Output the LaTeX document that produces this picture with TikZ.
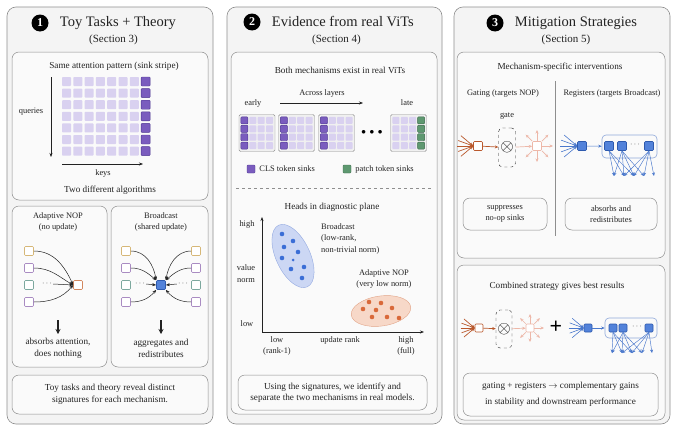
\documentclass[tikz,border=0pt]{standalone}
\usepackage{fontspec}
\setmainfont{Liberation Serif}
\usetikzlibrary{arrows.meta,calc,positioning}

\definecolor{ink}{HTML}{222222}
\definecolor{edge}{HTML}{8E8E8E}
\definecolor{panelbg}{HTML}{F4F4F4}
\definecolor{boxbg}{HTML}{FAFAFA}
\definecolor{lav}{HTML}{D9D1F0}
\definecolor{sinkp}{HTML}{7A5CBE}
\definecolor{sinkpd}{HTML}{4E3791}
\definecolor{sinkg}{HTML}{5E9870}
\definecolor{sinkgd}{HTML}{3C6B4A}
\definecolor{tokA}{HTML}{D6B777}
\definecolor{tokB}{HTML}{A98BC2}
\definecolor{tokC}{HTML}{7CA89E}
\definecolor{nopc}{HTML}{D2875F}
\definecolor{bluef}{HTML}{5282DA}
\definecolor{blued}{HTML}{2E5AAE}
\definecolor{bluea}{HTML}{4A78CC}
\definecolor{bluel}{HTML}{8FA8DA}
\definecolor{gatec}{HTML}{B9582C}
\definecolor{fade}{HTML}{EDB7A8}
\definecolor{blueell}{HTML}{CCD7F4}
\definecolor{blueelld}{HTML}{93A9E0}
\definecolor{orell}{HTML}{F7D8C8}
\definecolor{orelld}{HTML}{E2A487}
\definecolor{ordot}{HTML}{D9693A}
\definecolor{bldot}{HTML}{3B6ED6}

\newcommand\ttlfont{\fontsize{14.5}{17}\selectfont}
\newcommand\secfont{\fontsize{11}{13}\selectfont}
\newcommand\bodyfont{\fontsize{9.2}{11.5}\selectfont}
\newcommand\smallfont{\fontsize{8.4}{11.5}\selectfont}

\begin{document}
\begin{tikzpicture}[x=1pt,y=1pt,
    panel/.style={draw=edge,fill=panelbg,rounded corners=9pt,line width=.6pt},
    inbox/.style={draw=edge,fill=boxbg,rounded corners=7pt,line width=.5pt},
    txtbox/.style={inbox,align=center,font=\bodyfont,text=ink,inner sep=2pt},
    num/.style={circle,fill=black,text=white,inner sep=0pt,minimum size=17pt,font=\fontsize{12}{12}\selectfont\bfseries},
    ttl/.style={font=\ttlfont,text=ink,inner sep=1pt},
    sec/.style={font=\secfont,text=ink,inner sep=1pt},
    lbl/.style={font=\bodyfont,text=ink,inner sep=1pt,align=center},
    sml/.style={font=\smallfont,text=ink,inner sep=1pt,align=center},
    cell/.style={fill=lav,inner sep=0pt,minimum size=9pt,rounded corners=.8pt},
    frame/.style={draw=edge,fill=gray!12,rounded corners=1.5pt,minimum width=36pt,minimum height=37pt,inner sep=0pt},
    tok/.style={draw=#1,fill=white,inner sep=0pt,minimum size=9pt,rounded corners=1pt,line width=.6pt},
    gatebox/.style={draw=ink,dashed,rounded corners=4pt,minimum width=17pt,minimum height=39pt,inner sep=0pt,fill=boxbg,font=\fontsize{16}{16}\selectfont},
    regbox/.style={draw=bluel,rounded corners=4pt,minimum width=55pt,minimum height=23pt,inner sep=0pt,line width=.6pt},
    arr/.style={-{Stealth[length=4pt,width=3pt]},line width=.5pt,draw=ink},
    bigarr/.style={-{Stealth[length=5pt,width=5pt]},line width=1.4pt,draw=ink},
    barr/.style={-{Stealth[length=3.5pt,width=3pt]},line width=.7pt,draw=gatec},
    farr/.style={-{Stealth[length=3.5pt,width=3pt]},line width=.7pt,draw=fade},
    blarr/.style={-{Stealth[length=3.5pt,width=3pt]},line width=.6pt,draw=bluea},
    dot/.style={circle,fill=#1,inner sep=0pt,minimum size=4.6pt}]
\useasboundingbox (0,0) rectangle (677,-431);
\fill[white] (0,0) rectangle (677,-431);

% ---- panel 1 : toy tasks
\draw[panel] (7,-7) rectangle (213,-424);
\node[num] (n1) at (40,-23) {1};
\node[ttl,right=10pt of n1] (t1) {Toy Tasks + Theory};
\node[sec] (s1) at (113.5,-40) {(Section 3)};
\draw[inbox] (12,-52) rectangle (208,-200);
\node[lbl] (same) at (114,-66) {Same attention pattern (sink stripe)};
\foreach \i in {0,...,6}
  \foreach \j in {0,...,6}
    \node[cell] (c-\i-\j) at (66.5+11.3*\i,-81.5-11.6*\j) {};
\foreach \j in {0,...,6}
  \node[cell,fill=sinkp,draw=sinkpd] (c-7-\j) at (145.6,-81.5-11.6*\j) {};
\coordinate (qtop) at (51,-77);
\coordinate (qbot) at (51,-157);
\draw[arr] (qtop) -- (qbot);
\node[sml] (q) at (31,-112) {queries};
\coordinate (kl) at (62,-164);
\coordinate (kr) at (143,-164);
\draw[arr] (kl) -- (kr);
\node[sml] (k) at (103,-173) {keys};
\node[lbl] (two) at (110,-190) {Two different algorithms};

% adaptive nop
\draw[inbox] (12,-206) rectangle (107,-367);
\node[sml] (nopt) at (58,-222) {Adaptive NOP\\(no update)};
\foreach \c [count=\k] in {tokA,tokB,tokC,tokB}
  \node[tok=\c] (a\k) at (29,-234-17*\k) {};
\node[tok=nopc] (nt) at (78,-285) {};
\node[sml] (ad) at (47,-284) {$\cdots$};
\draw[arr] (a1.east) to[out=0,in=115] (nt.west);
\draw[arr] (a2.east) to[out=0,in=150] (nt.west);
\draw[arr] (ad.east) -- (nt.west);
\draw[arr] (a4.east) to[out=0,in=-130] (nt.west);
\coordinate (nd1) at (58,-320);
\coordinate (nd2) at (58,-334);
\draw[bigarr] (nd1) -- (nd2);
\node[lbl] (nopr) at (58,-348.5) {absorbs attention,\\does nothing};

% broadcast
\draw[inbox] (111,-206) rectangle (208,-367);
\node[sml] (bct) at (161,-222) {Broadcast\\(shared update)};
\foreach \c [count=\k] in {tokA,tokB,tokC,tokB} {
  \node[tok=\c] (bl\k) at (126,-234-17*\k) {};
  \node[tok=\c] (br\k) at (196,-234-17*\k) {};
}
\node[tok=blued,fill=bluef] (bc) at (161,-285) {};
\node[sml] (bld) at (140,-284) {$\cdots$};
\node[sml] (brd) at (183,-284) {$\cdots$};
\draw[arr] (bl1.east) to[out=0,in=100] (bc.north west);
\draw[arr] (bl2.east) to[out=0,in=140] (bc.north west);
\draw[arr] (bld.east) -- (bc.west);
\draw[arr] (bl4.east) to[out=0,in=-130] (bc.south west);
\draw[arr] (br1.west) to[out=180,in=80] (bc.north east);
\draw[arr] (br2.west) to[out=180,in=40] (bc.north east);
\draw[arr] (brd.west) -- (bc.east);
\draw[arr] (br4.west) to[out=180,in=-50] (bc.south east);
\coordinate (bd1) at (161,-320);
\coordinate (bd2) at (161,-334);
\draw[bigarr] (bd1) -- (bd2);
\node[lbl] (bcr) at (161,-348.5) {aggregates and\\redistributes};
\node[txtbox,minimum width=196pt,minimum height=39pt] (sum1) at (110,-394.5)
  {Toy tasks and theory reveal distinct\\signatures for each mechanism.};

% ---- panel 2 : real vits
\draw[panel] (227,-7) rectangle (442,-424);
\node[num] (n2) at (252,-22) {2};
\node[ttl,right=10pt of n2] (t2) {Evidence from real ViTs};
\node[sec] (s2) at (336.5,-40) {(Section 4)};
\draw[inbox] (231,-52) rectangle (437,-414);
\node[lbl] (both) at (340,-70) {Both mechanisms exist in real ViTs};
\node[sml] (across) at (322,-93) {Across layers};
\node[sml] (early) at (253,-103) {early};
\node[sml] (late) at (407,-103) {late};
\coordinate (al) at (280,-103);
\coordinate (ar) at (363,-103);
\draw[arr] (al) -- (ar);
\foreach \g/\x in {1/257,2/296.5,3/336.5,4/408.5} {
  \node[frame] (L\g) at (\x,-133) {};
  \foreach \i in {0,...,3}
    \foreach \j in {0,...,3}
      \node[cell,minimum size=7pt] (L\g-\i-\j) at (\x-12.6+8.4*\i,-120.4-8.4*\j) {};
}
\foreach \x [count=\g] in {257,296.5,336.5}
  \foreach \j in {0,...,3}
    \node[cell,minimum size=7pt,fill=sinkp,draw=sinkpd] (S\g-\j) at (\x-12.6,-120.4-8.4*\j) {};
\foreach \j in {0,...,3}
  \node[cell,minimum size=7pt,fill=sinkg,draw=sinkgd] (G-\j) at (421.1,-120.4-8.4*\j) {};
\node[font=\fontsize{9}{9}\selectfont] (more) at (372,-132) {$\bullet\,\bullet\,\bullet$};
\node[cell,minimum size=8pt,fill=sinkp,draw=sinkpd] (lg1) at (251,-169) {};
\node[sml,right=3pt of lg1] (lg1t) {CLS token sinks};
\node[cell,minimum size=8pt,fill=sinkg,draw=sinkgd] (lg2) at (347,-169) {};
\node[sml,right=3pt of lg2] (lg2t) {patch token sinks};
\coordinate (dl) at (236,-188);
\coordinate (dr) at (431,-188);
\draw[edge,dash pattern=on 3pt off 3pt,line width=.6pt] (dl) -- (dr);

\node[lbl] (heads) at (332,-207) {Heads in diagnostic plane};
\coordinate (O) at (262,-332);
\coordinate (ytop) at (262,-217);
\coordinate (xend) at (424,-332);
\draw[arr,line width=.7pt] (O) -- (ytop);
\draw[arr,line width=.7pt] (O) -- (xend);
\node[sml] (yhi) at (247,-224) {high};
\node[sml] (yval) at (246,-273.5) {value\\norm};
\node[sml] (ylo) at (247,-324) {low};
\node[sml] (xlo) at (277,-346) {low\\(rank-1)};
\node[sml] (xrk) at (340,-340) {update rank};
\node[sml] (xhi) at (406,-346) {high\\(full)};
\draw[fill=blueell,draw=blueelld,rotate around={25:(293,-256)}] (293,-256) ellipse [x radius=17pt,y radius=34pt];
\foreach \x/\y [count=\k] in {282/234,293/241,284/247,298/252,282/258,291/269,304/267,302/278}
  \node[dot=bldot] (bd\k) at (\x,-\y) {};
\node[dot=bldot,minimum size=3pt] (bd9) at (293,-260) {};
\node[sml,align=left,anchor=north west] (bcl) at (320,-222) {Broadcast\\(low-rank,\\non-trivial norm)};
\node[sml] (nopl) at (384,-279) {Adaptive NOP\\(very low norm)};
\draw[fill=orell,draw=orelld,rotate around={8:(381,-311)}] (381,-311) ellipse [x radius=30pt,y radius=15pt];
\foreach \x/\y [count=\k] in {369/302,381/303,392/308,363/309,376/310,372/317,387/317,399/318}
  \node[dot=ordot] (od\k) at (\x,-\y) {};
\node[txtbox,minimum width=189pt,minimum height=35pt] (sum2) at (332.5,-392.5)
  {Using the signatures, we identify and\\separate the two mechanisms in real models.};

% ---- panel 3 : mitigation
\draw[panel] (454,-7) rectangle (670,-424);
\node[num] (n3) at (495,-23) {3};
\node[ttl,right=10pt of n3] (t3) {Mitigation Strategies};
\node[sec] (s3) at (566,-40) {(Section 5)};
\draw[inbox] (457,-52) rectangle (665,-258);
\node[lbl] (mech) at (560,-67) {Mechanism-specific interventions};
\coordinate (vt) at (555,-81);
\coordinate (vb) at (555,-236);
\draw[edge,line width=.8pt] (vt) -- (vb);
\node[sml] (gat) at (503,-93) {Gating (targets NOP)};
\node[sml] (regt) at (612,-93) {Registers (targets Broadcast)};
\node[sml] (gl) at (507,-116) {gate};

% gating
\node[tok=gatec] (gsq) at (478,-146) {};
\foreach \a [count=\k] in {-40,-20,0,20,40} {
  \coordinate (gi\k) at ($(gsq.west)+(180+\a:16)$);
  \draw[barr] (gi\k) -- (gsq.west);
}
\node[gatebox] (gate) at (507,-147.5) {$\otimes$};
\draw[barr] (gsq) -- (gate);
\node[tok=fade] (fsq) at (537,-146) {};
\draw[farr] (gate) -- (fsq);
\foreach \a [count=\k] in {90,45,0,-45,-90,-135,135} {
  \coordinate (fo\k) at ($(fsq)+(\a:16)$);
  \draw[farr] (fsq.\a) -- (fo\k);
}

% registers
\node[tok=blued,fill=bluef] (bsq) at (582,-146) {};
\foreach \a [count=\k] in {-40,-20,0,20,40} {
  \coordinate (bi\k) at ($(bsq.west)+(180+\a:17)$);
  \draw[blarr] (bi\k) -- (bsq.west);
}
\node[regbox] (reg) at (629.5,-146.5) {};
\draw[blarr] (bsq) -- (reg);
\node[tok=blued,fill=bluef] (r1) at (609,-146) {};
\node[tok=blued,fill=bluef] (r2) at (622,-146) {};
\node[sml] (rd) at (635,-145) {$\cdots$};
\node[tok=blued,fill=bluef] (r3) at (649,-146) {};
\foreach \x [count=\k] in {614,624,634,644,654}
  \coordinate (t\k) at (\x,-176);
\foreach \k in {1,2,3} \draw[blarr,line width=.45pt] (r1.south) -- (t\k);
\foreach \k in {1,...,4} \draw[blarr,line width=.45pt] (r2.south) -- (t\k);
\foreach \k in {2,...,5} \draw[blarr,line width=.45pt] (r3.south) -- (t\k);
\node[txtbox,font=\smallfont,minimum width=84pt,minimum height=32pt] (sup) at (505,-214)
  {suppresses\\no-op sinks};
\node[txtbox,font=\smallfont,minimum width=92pt,minimum height=32pt] (absr) at (611,-214)
  {absorbs and\\redistributes};

% combined
\draw[inbox] (457,-265) rectangle (665,-420);
\node[lbl] (comb) at (557,-286) {Combined strategy gives best results};
\node[tok=gatec,minimum size=8pt] (cgsq) at (479,-328) {};
\foreach \a [count=\k] in {-40,-20,0,20,40} {
  \coordinate (cgi\k) at ($(cgsq.west)+(180+\a:14)$);
  \draw[barr] (cgi\k) -- (cgsq.west);
}
\node[gatebox,minimum width=16pt,minimum height=38pt] (cgate) at (504,-329) {$\otimes$};
\draw[barr] (cgsq) -- (cgate);
\node[tok=fade,minimum size=8pt] (cfsq) at (530,-328) {};
\draw[farr] (cgate) -- (cfsq);
\foreach \a [count=\k] in {90,45,0,-45,-90,-135,135} {
  \coordinate (cfo\k) at ($(cfsq)+(\a:14)$);
  \draw[farr] (cfsq.\a) -- (cfo\k);
}
\node[font=\fontsize{22}{22}\selectfont\bfseries] (plus) at (556,-327) {+};
\node[tok=blued,fill=bluef,minimum size=8pt] (cbsq) at (588,-328) {};
\foreach \a [count=\k] in {-40,-20,0,20,40} {
  \coordinate (cbi\k) at ($(cbsq.west)+(180+\a:15)$);
  \draw[blarr] (cbi\k) -- (cbsq.west);
}
\node[regbox,minimum width=52pt,minimum height=20pt] (creg) at (631,-328) {};
\draw[blarr] (cbsq) -- (creg);
\node[tok=blued,fill=bluef,minimum size=8pt] (cr1) at (613,-328) {};
\node[tok=blued,fill=bluef,minimum size=8pt] (cr2) at (623,-328) {};
\node[sml] (crd) at (637,-327) {$\cdots$};
\node[tok=blued,fill=bluef,minimum size=8pt] (cr3) at (649,-328) {};
\foreach \x [count=\k] in {612,622,632,642,652}
  \coordinate (ct\k) at (\x,-353);
\foreach \k in {1,2,3} \draw[blarr,line width=.45pt] (cr1.south) -- (ct\k);
\foreach \k in {1,...,4} \draw[blarr,line width=.45pt] (cr2.south) -- (ct\k);
\foreach \k in {2,...,5} \draw[blarr,line width=.45pt] (cr3.south) -- (ct\k);
\node[txtbox,minimum width=195pt,minimum height=43pt] (sum3) at (560.5,-394.5)
  {gating + registers $\rightarrow$ complementary gains\\[4pt]in stability and downstream performance};
\end{tikzpicture}
\end{document}
